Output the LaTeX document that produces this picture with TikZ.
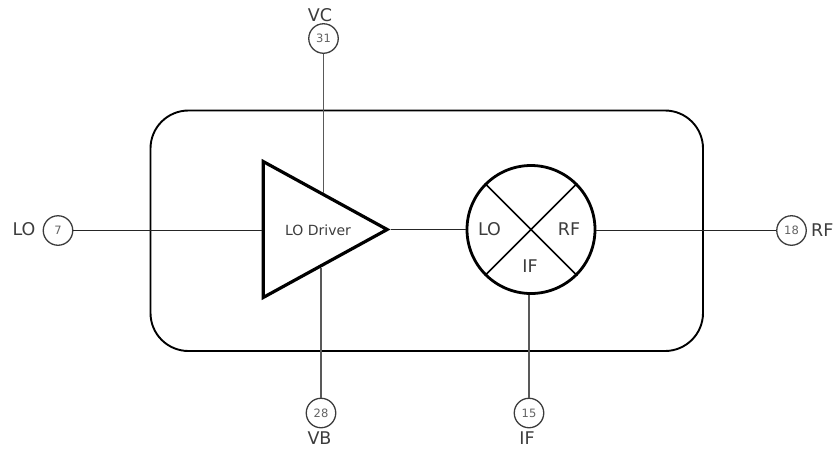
\documentclass[tikz,border=0pt]{standalone}
\usepackage{fontspec}
\setmainfont{DejaVu Sans}
\usetikzlibrary{shapes.geometric,calc}
\definecolor{inkgray}{HTML}{3C3C3C}
\begin{document}
\begin{tikzpicture}[x=1pt,y=-1pt,
  pin/.style={circle,draw=inkgray,line width=1.3pt,fill=white,minimum size=29.5pt,inner sep=0pt,text=inkgray!80,font=\fontsize{11.5}{12}\selectfont},
  pinlabel/.style={text=inkgray,inner sep=0pt,font=\fontsize{17.5}{19}\selectfont},
  wire/.style={draw=black!85,line width=1.4pt},
  vwire/.style={draw=black!65,line width=1.7pt}]
\useasboundingbox (0,0) rectangle (833,448);
% package outline
\draw[line width=1.9pt,rounded corners=38pt] (150.5,110.5) rectangle (703,351);
% pins
\node[pin] (pinlo) at (58,230.5) {7};
\node[pin] (pinvc) at (323.5,38.5) {31};
\node[pin] (pinvb) at (321,413) {28};
\node[pin] (pinif) at (529,413) {15};
\node[pin] (pinrf) at (791.5,230.5) {18};
\node[pinlabel] (lblo) at (24,229) {LO};
\node[pinlabel] (lbvc) at (320,15) {VC};
\node[pinlabel] (lbvb) at (319.5,438.5) {VB};
\node[pinlabel] (lbif) at (527,438) {IF};
\node[pinlabel,anchor=west] (lbrf) at (811,230.5) {RF};
% driver and mixer
\node[isosceles triangle,isosceles triangle apex angle=57.5,isosceles triangle stretches,
  draw,line width=3.2pt,minimum width=136pt,minimum height=124pt,inner sep=0pt,anchor=apex] (drv) at (390.5,229.5) {};
\node[inner sep=0pt,text=inkgray,font=\fontsize{14}{15}\selectfont] (drvtext) at (318,230) {LO Driver};
\node[circle,draw,line width=2.8pt,minimum size=128pt,inner sep=0pt] (mix) at (531,229.5) {};
\draw[line width=1.7pt] (mix.45) -- (mix.225) (mix.135) -- (mix.315);
\node[pinlabel] (mixlo) at (489.5,229) {LO};
\node[pinlabel] (mixrf) at (569,229) {RF};
\node[pinlabel] (mixif) at (530,266) {IF};
% connections
\coordinate (vcin) at ($(drv.apex)!0.52!(drv.left corner)$);
\coordinate (vbin) at ($(drv.apex)!0.54!(drv.right corner)$);
\draw[wire] (pinlo) -- (pinlo -| drv.lower side);
\draw[wire] (drv.apex) -- (mix.west);
\draw[wire] (mix.east |- pinrf) -- (pinrf);
\draw[vwire] (pinvc) -- (pinvc |- vcin);
\draw[vwire] (pinvb) -- (pinvb |- vbin);
\draw[vwire] (pinif) -- (pinif |- mix.south);
\end{tikzpicture}
\end{document}
